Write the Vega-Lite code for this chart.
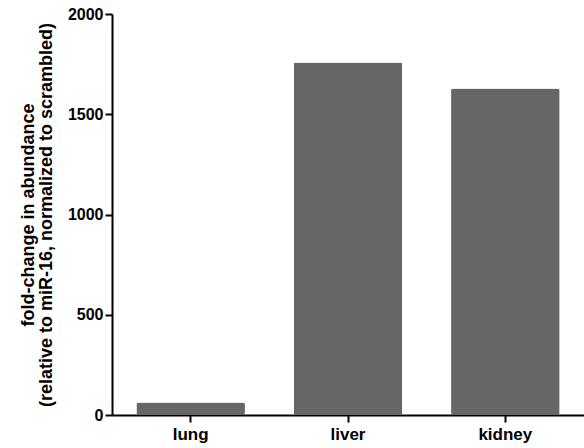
{
  "$schema": "https://vega.github.io/schema/vega-lite/v6.json",
  "autosize": "none",
  "padding": {"left": 112, "top": 14, "right": 0, "bottom": 33},
  "width": 472,
  "height": 401,
  "background": "white",
  "config": {"view": {"stroke": null}, "font": "Liberation Sans"},
  "data": {"values": [
    {"tissue": "lung", "value": 62},
    {"tissue": "liver", "value": 1758},
    {"tissue": "kidney", "value": 1628}
  ]},
  "mark": {"type": "bar", "color": "#666666", "cornerRadius": 2},
  "encoding": {
    "x": {
      "field": "tissue", "type": "nominal", "sort": null,
      "scale": {"paddingInner": 0.31, "paddingOuter": 0.155},
      "axis": {
        "title": null, "labelAngle": 0, "labelFont": "Liberation Sans", "labelFontWeight": "bold",
        "labelFontSize": 17, "labelColor": "black", "labelPadding": 4,
        "domainColor": "black", "domainWidth": 2, "tickColor": "black", "tickWidth": 2, "tickSize": 7
      }
    },
    "y": {
      "field": "value", "type": "quantitative",
      "scale": {"domain": [0, 2000], "nice": false},
      "axis": {
        "values": [0, 500, 1000, 1500, 2000], "grid": false, "format": "d",
        "title": ["fold-change in abundance", "(relative to miR-16, normalized to scrambled)"],
        "titleFont": "Liberation Sans", "titleFontWeight": "bold", "titleFontSize": 18, "titleColor": "black",
        "titleLineHeight": 18, "titlePadding": 12,
        "labelFont": "Liberation Sans", "labelFontWeight": "bold", "labelFontSize": 16, "labelColor": "black",
        "labelPadding": 2,
        "domainColor": "black", "domainWidth": 2, "tickColor": "black", "tickWidth": 2, "tickSize": 7
      }
    }
  }
}
